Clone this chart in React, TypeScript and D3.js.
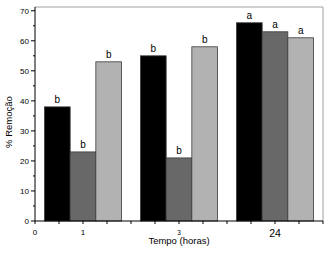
import React from "react";
import * as d3 from "d3";

const groups = [1, 3, 5];
const seriesA = [38, 55, 66];
const seriesB = [23, 21, 63];
const seriesC = [53, 58, 61];
const lettersA = ["b", "b", "a"];
const lettersB = ["b", "b", "a"];
const lettersC = ["b", "b", "a"];
const yTicks = [0, 10, 20, 30, 40, 50, 60, 70];
const xTickLabels: [number, string, number][] = [[0, "0", 8], [1, "1", 8], [3, "3", 6.5], [5, "24", 10.5]];

const series = [
  { values: seriesA, letters: lettersA, fill: "#000000" },
  { values: seriesB, letters: lettersB, fill: "#686868" },
  { values: seriesC, letters: lettersC, fill: "#b2b2b2" },
];

export default function App() {
  const W = 329, H = 256;
  const left = 35, right = 323, top = 7, bottom = 221;
  const x = d3.scaleLinear().domain([0, 6]).range([left, right]);
  const y = d3.scaleLinear().domain([0, 71.25]).range([bottom, top]);
  const bw = x(0.535) - x(0);
  const font = "Liberation Sans, Arial, sans-serif";
  const minorX = d3.range(0, 6.01, 0.5);
  const minorY = d3.range(0, 71, 5);
  return (
    <svg width={W} height={H} style={{ position: "absolute", left: 0, top: 0, background: "#fff" }}>
      <rect x={0} y={0} width={W} height={H} fill="#fff" />
      {series.map((s, si) =>
        groups.map((g, gi) => {
          const cx = x(g) + (si - 1) * bw;
          const v = s.values[gi];
          return (
            <g key={`${si}-${gi}`}>
              <rect x={cx - bw / 2} y={y(v)} width={bw} height={bottom - y(v)} fill={s.fill} stroke="#3a3a3a" strokeWidth={0.8} />
              <text x={cx} y={y(v) - 4} textAnchor="middle" fontFamily={font} fontSize={10} fill="#000">{s.letters[gi]}</text>
            </g>
          );
        })
      )}
      <line x1={left} x2={right} y1={top} y2={top} stroke="#a0a0a0" strokeWidth={1} />
      <line x1={right} x2={right} y1={top} y2={bottom} stroke="#a0a0a0" strokeWidth={1} />
      <line x1={left} x2={left} y1={top} y2={bottom} stroke="#000" strokeWidth={1} />
      <line x1={left} x2={right} y1={bottom} y2={bottom} stroke="#000" strokeWidth={1} />
      {minorY.map((t) => (
        <line key={"my" + t} x1={left} x2={left - (t % 10 === 0 ? 4 : 2)} y1={y(t)} y2={y(t)} stroke="#000" strokeWidth={1} />
      ))}
      {yTicks.map((t) => (
        <text key={"yl" + t} x={left - 6} y={y(t) + 3} textAnchor="end" fontFamily={font} fontSize={8} fill="#000">{t}</text>
      ))}
      {minorX.map((t) => (
        <line key={"mx" + t} x1={x(t)} x2={x(t)} y1={bottom} y2={bottom + 3} stroke="#000" strokeWidth={1} />
      ))}
      {xTickLabels.map(([v, l, fs]) => (
        <text key={"xl" + l} x={x(v)} y={l === "24" ? bottom + 15.5 : bottom + 13.5} textAnchor="middle" fontFamily={font} fontSize={fs} fill="#000">{l}</text>
      ))}
      <text x={(left + right) / 2} y={244} textAnchor="middle" fontFamily={font} fontSize={9.5} fill="#000">Tempo (horas)</text>
      <text transform={`translate(12,${(top + bottom) / 2 + 8}) rotate(-90)`} textAnchor="middle" fontFamily={font} fontSize={9.5} fill="#000">% Remoção</text>
    </svg>
  );
}
